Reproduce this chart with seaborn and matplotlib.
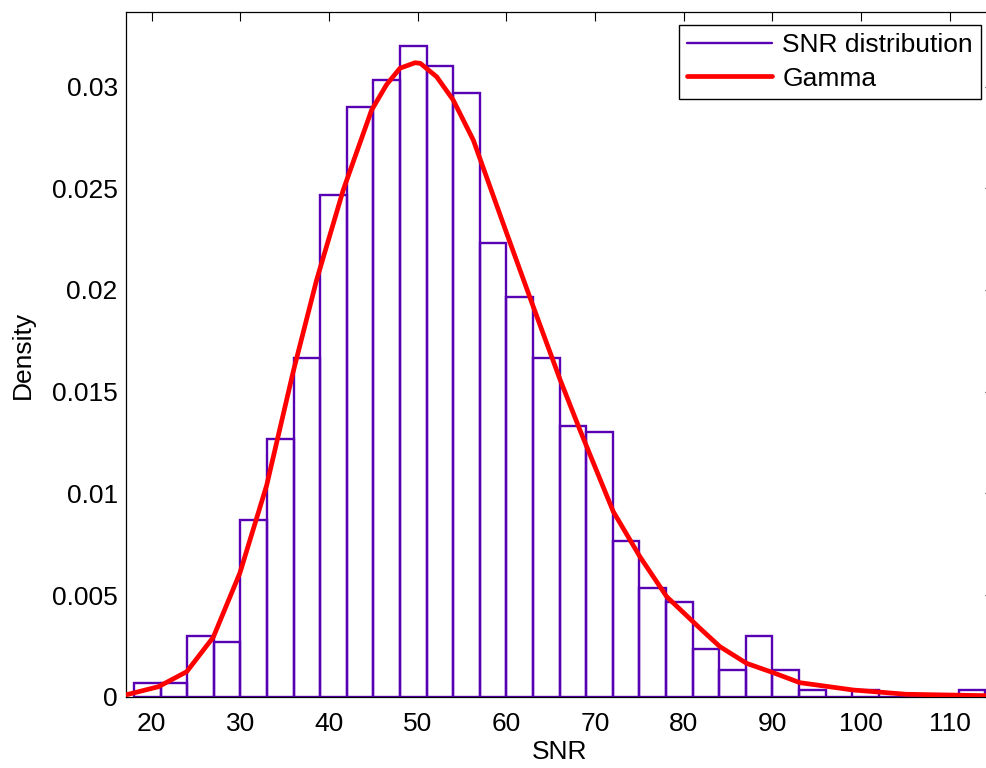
import numpy as np
import pandas as pd
import matplotlib
matplotlib.use("Agg")
import matplotlib.pyplot as plt
from matplotlib.lines import Line2D
import seaborn as sns

# ---- data ----
bin_edges = [18, 21, 24, 27, 30, 33, 36, 39, 42, 45, 48, 51, 54, 57, 60, 63, 66,
             69, 72, 75, 78, 81, 84, 87, 90, 93, 96, 99, 102, 105, 108, 111, 114]
density = [0.00067, 0.00067, 0.00300, 0.00267, 0.00867, 0.01267, 0.01667, 0.02467,
           0.02900, 0.03033, 0.03200, 0.03100, 0.02967, 0.02233, 0.01967, 0.01667,
           0.01333, 0.01300, 0.00767, 0.00533, 0.00467, 0.00233, 0.00133, 0.00300,
           0.00133, 0.00033, 0.0, 0.00033, 0.0, 0.0, 0.0, 0.00033]

gamma_x = [17.0, 20.75, 23.95, 26.95, 29.96, 32.97, 35.97, 38.6, 41.6, 44.8, 46.5,
           48.0, 49.7, 50.3, 52.14, 54.0, 56.27, 60.04, 63.04, 66.05, 68.3, 72.06,
           75.07, 78.08, 81.84, 84.09, 87.1, 90.1, 93.1, 99.1, 105.1, 114.2]
gamma_y = [0.00008, 0.00049, 0.00123, 0.00293, 0.00610, 0.01040, 0.01600, 0.02049,
           0.02491, 0.02884, 0.03010, 0.03090, 0.03117, 0.03114, 0.03048, 0.02934,
           0.02737, 0.02278, 0.01917, 0.01560, 0.01311, 0.00910, 0.00688, 0.00492,
           0.00336, 0.00246, 0.00164, 0.00118, 0.00069, 0.00033, 0.00012, 0.00005]

x_ticks = [20, 30, 40, 50, 60, 70, 80, 90, 100, 110]
y_ticks = [0, 0.005, 0.01, 0.015, 0.02, 0.025, 0.03]
y_ticklabels = ["0", "0.005", "0.01", "0.015", "0.02", "0.025", "0.03"]

hist_label = "SNR distribution"
curve_label = "Gamma"
x_label = "SNR"
y_label = "Density"

# ---- styling ----
sns.set_style("white")
plt.rcParams['font.family'] = ['Liberation Sans', 'DejaVu Sans']
plt.rcParams['text.color'] = 'black'
plt.rcParams['axes.labelcolor'] = 'black'
purple = "#5800b4"
red = "#ff0000"
fs = 19

fig = plt.figure(figsize=(9.87, 7.68), dpi=100)
W, H = 987, 768
ax = fig.add_axes([126 / W, 1 - 696.7 / H, (994 - 126) / W, (696.7 - 12.3) / H])

centers = [(bin_edges[i] + bin_edges[i + 1]) / 2 for i in range(len(density))]
hist_df = pd.DataFrame({"snr": centers, "w": density})
sns.histplot(data=hist_df, x="snr", weights="w", bins=bin_edges, stat="count",
             fill=False, element="bars", color=purple, linewidth=1.7, ax=ax,
             zorder=2)
for p in ax.patches:
    p.set_edgecolor(purple)

curve_df = pd.DataFrame({"x": gamma_x, "y": gamma_y})
sns.lineplot(data=curve_df, x="x", y="y", color=red, linewidth=3.4, ax=ax,
             sort=False, zorder=3, solid_joinstyle="round", solid_capstyle="round")

ax.set_xlim(17.1, 115.0)
ax.set_ylim(0, 0.03365)
ax.set_xticks(x_ticks)
ax.set_xticklabels([str(t) for t in x_ticks])
ax.set_yticks(y_ticks)
ax.set_yticklabels(y_ticklabels)
ax.tick_params(direction="in", top=True, right=True, length=6.5, width=0.8,
               labelsize=fs, colors="black", labelcolor="black")
ax.tick_params(axis="x", pad=11)
ax.tick_params(axis="y", pad=6)
for s in ax.spines.values():
    s.set_visible(True)
    s.set_color("black")
    s.set_linewidth(0.9)

ax.set_xlabel(x_label, fontsize=fs, labelpad=3, color="black")
ax.set_ylabel(y_label, fontsize=fs, labelpad=12, color="black")

handles = [Line2D([0], [0], color=purple, linewidth=1.7),
           Line2D([0], [0], color=red, linewidth=3.4)]
leg = ax.legend(handles, [hist_label, curve_label], loc="upper right",
                fontsize=fs, frameon=True, fancybox=False, framealpha=1,
                edgecolor="black", handlelength=3.2, handletextpad=0.4,
                borderpad=0.3, labelspacing=0.35, borderaxespad=0.5)
leg.get_frame().set_linewidth(1.0)
for t in leg.get_texts():
    t.set_color("black")

fig.savefig("out.png", dpi=100)
